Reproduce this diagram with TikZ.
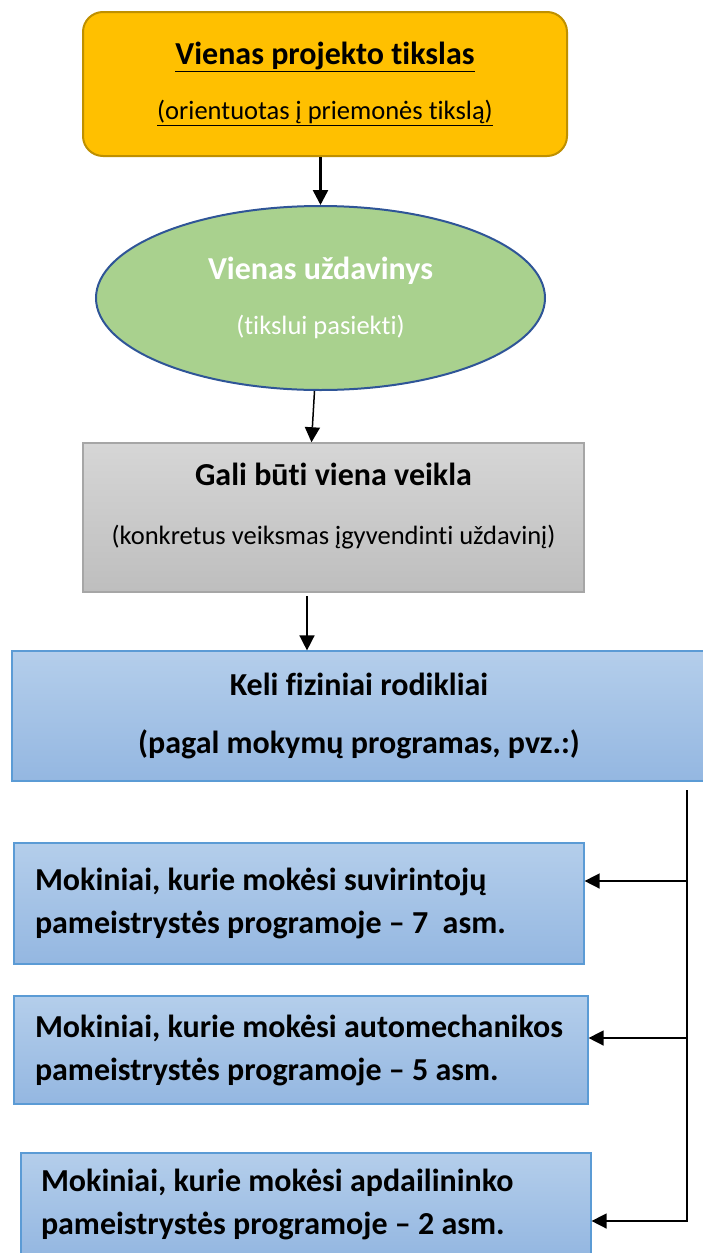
\documentclass[tikz,border=0pt]{standalone}
\usepackage{fontspec}
\setmainfont{Carlito}[Ligatures=NoCommon]
\usetikzlibrary{shapes.geometric,arrows.meta}
\definecolor{goalfill}{HTML}{FFC000}
\definecolor{goalline}{HTML}{BF9000}
\definecolor{taskfill}{HTML}{A9D18E}
\definecolor{taskline}{HTML}{2F5597}
\definecolor{actline}{HTML}{A6A6A6}
\definecolor{acttop}{HTML}{D6D6D6}
\definecolor{actbot}{HTML}{BEBEBE}
\definecolor{indtop}{HTML}{B4CEEB}
\definecolor{indbot}{HTML}{94B7E1}
\definecolor{indline}{HTML}{5B9BD5}
\newcommand{\headfont}{\fontsize{32}{38}\selectfont\bfseries}
\newcommand{\notefont}{\fontsize{26.5}{32}\selectfont}
\newcommand{\itemfont}{\fontsize{32}{43}\selectfont\bfseries}
\begin{document}
\begin{tikzpicture}[x=1pt,y=-1pt,line width=1.5pt,
	goal/.style={draw=goalline,line width=2pt,fill=goalfill,rounded corners=20pt,minimum width=484pt,minimum height=144pt,align=center},
	task/.style={ellipse,draw=taskline,line width=2pt,fill=taskfill,minimum width=449pt,minimum height=184pt,align=center,text=white},
	act/.style={draw=actline,line width=1.5pt,top color=acttop,bottom color=actbot,minimum width=501pt,minimum height=149pt,align=center},
	ind/.style={draw=indline,line width=1.2pt,top color=indtop,bottom color=indbot,align=center},
	item/.style={ind,align=flush left,inner xsep=21pt,font=\itemfont},
	arr/.style={-{Triangle[length=15pt,width=15pt]}}]
	\useasboundingbox (0,0) rectangle (703,1253);
	\node[goal] (goal) at (325,84) {\headfont\underline{Vienas projekto tikslas}\\[27pt]\notefont\underline{(orientuotas į priemonės tikslą)}};
	\node[task] (task) at (320.5,298) {\headfont Vienas uždavinys\\[30pt]\notefont(tikslui pasiekti)};
	\node[act] (act) at (333.5,517.5) {\headfont Gali būti viena veikla\\[38pt]\notefont(konkretus veiksmas įgyvendinti uždavinį)\\[16pt]};
	\node[ind,minimum width=694pt,minimum height=130pt] (ind) at (359,716) {\headfont Keli fiziniai rodikliai\\[33pt]\headfont(pagal mokymų programas, pvz.:)};
	\node[item,text width=528pt,minimum height=121pt] (item1) at (299,903.5) {\mbox{Mokiniai, kurie mokėsi suvirintojų}\\\mbox{pameistrystės programoje – 7~~asm.}};
	\node[item,text width=532pt,minimum height=108pt] (item2) at (301,1050) {\mbox{Mokiniai, kurie mokėsi automechanikos}\\\mbox{pameistrystės programoje – 5 asm.}};
	\node[item,text width=530pt,minimum height=103pt,inner xsep=20pt] (item3) at (306,1204.5) {\mbox{Mokiniai, kurie mokėsi apdailininko}\\\mbox{pameistrystės programoje – 2 asm.}};
	\coordinate (a3) at (307,596);
	\coordinate (bustop) at (687,790);
	\coordinate (busbot) at (687,1222);
	\coordinate (b1) at (687,881);
	\coordinate (b2) at (687,1038);
	\coordinate (b3) at (687,1221);
	\draw[arr,line width=2.5pt] (task.north |- goal.south) -- (task.north);
	\draw[arr] ([xshift=-6pt]task.south) -- ([xshift=-9pt]task.south |- act.north);
	\draw[arr] (a3) -- (a3 |- ind.north);
	\draw (bustop) -- (busbot);
	\draw[arr] (b1) -- (b1 -| item1.east);
	\draw[arr] (b2) -- (b2 -| item2.east);
	\draw[arr] (b3) -- (b3 -| item3.east);
\end{tikzpicture}
\end{document}
